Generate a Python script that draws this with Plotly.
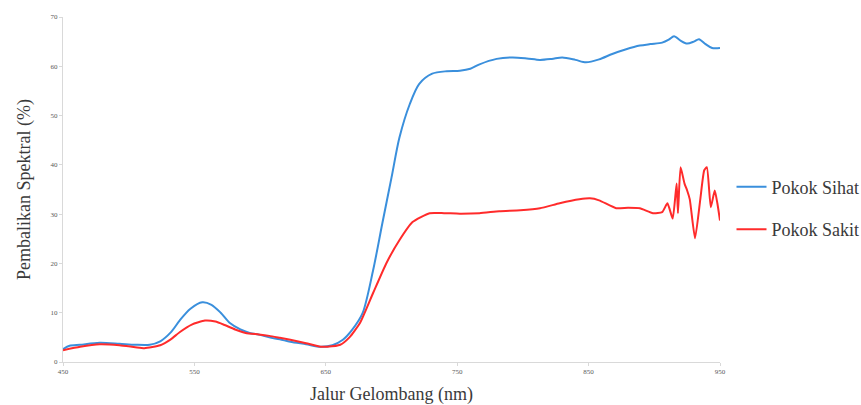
import plotly.graph_objects as go

# Pokok Sihat (healthy) - wavelength (nm), reflectance (%)
sihat_x = [450, 455, 463, 478, 493, 505, 516, 524, 532, 539, 547, 556, 563, 570, 577, 585, 592, 600, 607, 615, 623, 635, 646, 655, 663, 670, 678, 686, 693, 700, 706, 714, 721, 731, 742, 752, 760, 767, 780, 792, 803, 813, 822, 830, 840, 848, 858, 868, 878, 889, 897, 906, 911, 915, 920, 925, 930, 934, 939, 944, 950]
sihat_y = [2.6, 3.3, 3.5, 3.9, 3.7, 3.5, 3.5, 4.2, 6.0, 8.5, 10.8, 12.1, 11.6, 10.0, 7.9, 6.6, 5.9, 5.5, 5.0, 4.6, 4.1, 3.6, 3.1, 3.4, 4.5, 6.5, 9.9, 18.6, 28.1, 37.4, 45.5, 52.4, 56.4, 58.5, 59.0, 59.1, 59.5, 60.4, 61.5, 61.8, 61.6, 61.3, 61.5, 61.8, 61.3, 60.8, 61.4, 62.5, 63.4, 64.2, 64.5, 64.8, 65.4, 66.1, 65.2, 64.6, 65.0, 65.5, 64.5, 63.7, 63.7]

# Pokok Sakit (diseased)
sakit_x = [450, 463, 478, 493, 505, 512, 524, 532, 539, 548, 558, 566, 573, 581, 589, 599, 607, 615, 623, 635, 646, 651, 661, 668, 676, 686, 696, 706, 716, 729, 740, 752, 767, 782, 798, 813, 828, 843, 851, 858, 871, 880, 889, 899, 906, 910, 914, 917, 918, 920, 923, 925, 927, 931, 935, 938, 940, 943, 946, 948, 950]
sakit_y = [2.4, 3.1, 3.6, 3.4, 3.0, 2.8, 3.4, 4.6, 6.1, 7.6, 8.4, 8.2, 7.5, 6.6, 5.9, 5.6, 5.3, 4.9, 4.5, 3.8, 3.1, 3.1, 3.5, 5.0, 7.9, 14.0, 20.0, 24.7, 28.4, 30.2, 30.2, 30.1, 30.2, 30.6, 30.8, 31.2, 32.2, 33.0, 33.2, 32.8, 31.2, 31.3, 31.2, 30.2, 30.4, 32.2, 29.1, 36.2, 30.2, 39.5, 36.2, 34.8, 33.0, 25.1, 33.0, 38.9, 39.5, 31.4, 34.8, 32.2, 28.7]

x_ticks = [450, 550, 650, 750, 850, 950]
y_ticks = [0, 10, 20, 30, 40, 50, 60, 70]

SERIF = "Liberation Serif"

fig = go.Figure()
fig.add_trace(go.Scatter(x=sihat_x, y=sihat_y, mode="lines", name="Pokok Sihat",
                         legendgroup="a",
                         line=dict(color="#3a8fdc", width=2, shape="spline", smoothing=0.8)))
fig.add_trace(go.Scatter(x=sakit_x, y=sakit_y, mode="lines", name="Pokok Sakit",
                         legendgroup="b",
                         line=dict(color="#ff2b2b", width=2, shape="spline", smoothing=0.5)))

axis_font = dict(family=SERIF, size=7, color="#595959")
fig.update_layout(
    width=861, height=405,
    margin=dict(l=63, r=141, t=17, b=43, autoexpand=False),
    plot_bgcolor="white", paper_bgcolor="white",
    font=dict(family=SERIF, color="#3a3a3a"),
    showlegend=True,
    legend=dict(x=1.0175, xanchor="left", y=0.446, yanchor="middle",
                font=dict(family=SERIF, size=18, color="#3a3a3a"),
                itemwidth=30, tracegroupgap=16, bgcolor="rgba(0,0,0,0)"),
    xaxis=dict(range=[450, 950], tickvals=x_ticks, ticktext=[str(v) for v in x_ticks],
               automargin=False,
               showgrid=False, zeroline=False, showline=True, linecolor="#d9d9d9", linewidth=1,
               ticks="outside", ticklen=3, tickcolor="#d9d9d9", tickfont=axis_font,
               title=dict(text="Jalur Gelombang (nm)", standoff=19,
                          font=dict(family=SERIF, size=18, color="#3a3a3a"))),
    yaxis=dict(range=[0, 70], tickvals=y_ticks, ticktext=[str(v) for v in y_ticks],
               automargin=False,
               showgrid=False, zeroline=False, showline=True, linecolor="#d9d9d9", linewidth=1,
               ticks="outside", ticklen=3, tickcolor="#d9d9d9", tickfont=axis_font,
               title=dict(text="Pembalikan Spektral (%)", standoff=15,
                          font=dict(family=SERIF, size=18, color="#3a3a3a"))),
)

fig.write_html("out.html")
